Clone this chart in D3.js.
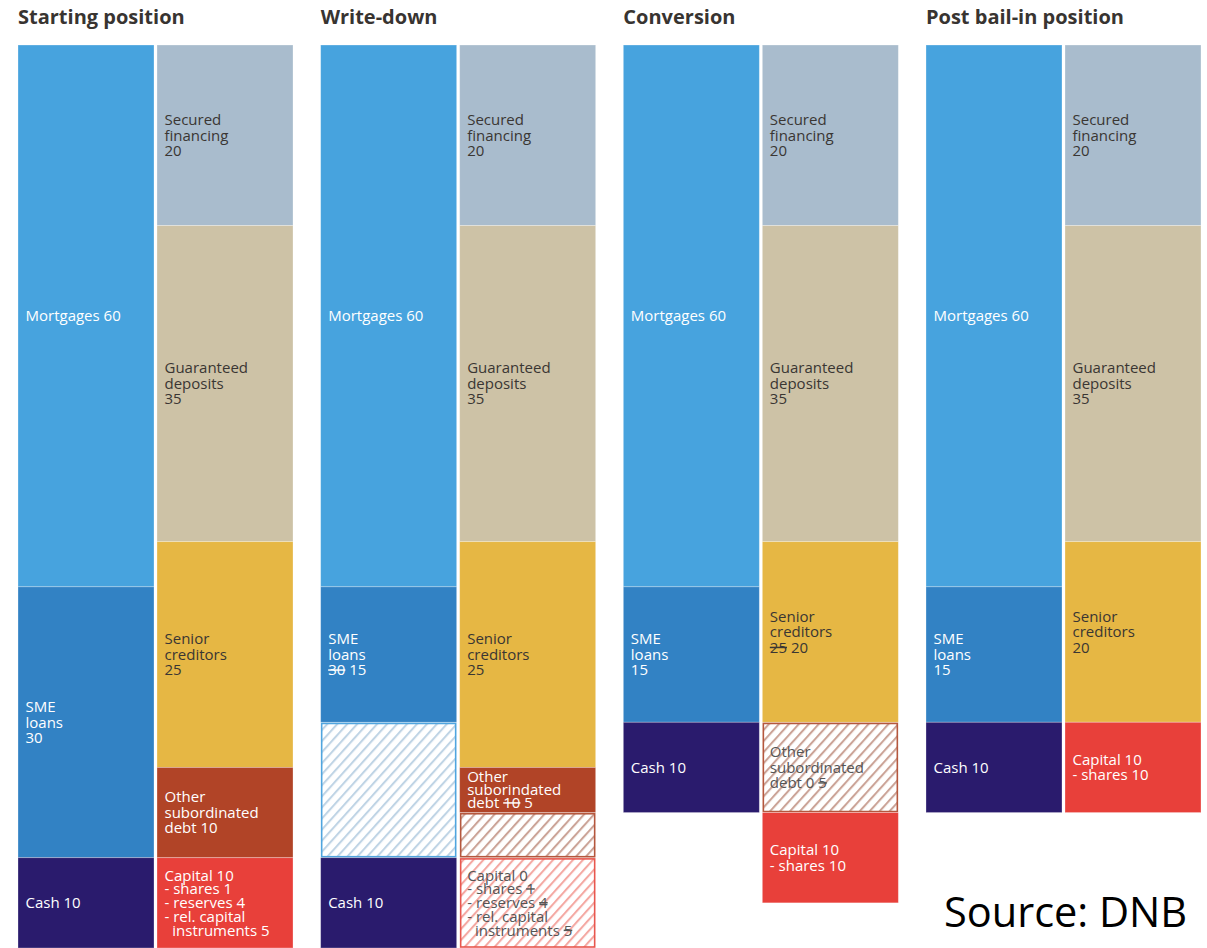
<!DOCTYPE html>
<html>
<head>
<meta charset="utf-8">
<script src="https://cdn.jsdelivr.net/npm/d3@7"></script>
<style>
  html, body { margin: 0; padding: 0; background: #fff; }
  svg { display: block; }
  text { font-family: "Open Sans", "Noto Sans", sans-serif; white-space: pre; }
</style>
</head>
<body>
<svg id="chart" width="1207" height="948"></svg>
<script>
// Balance sheet of a bank through the stages of a bail-in (units of 100).
// "{v}" in a label is replaced by the segment value; "~x~" marks a struck-through figure.

const stages = ["Starting position", "Write-down", "Conversion", "Post bail-in position"];

const assetsStart = [
  { kind: "mortgages", value: 60, label: ["Mortgages {v}"] },
  { kind: "sme", value: 30, label: ["SME", "loans", "{v}"] },
  { kind: "cash", value: 10, label: ["Cash {v}"] }
];
const liabilitiesStart = [
  { kind: "secured", value: 20, label: ["Secured", "financing", "{v}"] },
  { kind: "guaranteed", value: 35, label: ["Guaranteed", "deposits", "{v}"] },
  { kind: "senior", value: 25, label: ["Senior", "creditors", "{v}"] },
  { kind: "subdebt", value: 10, label: ["Other", "subordinated", "debt {v}"] },
  { kind: "capital", value: 10, label: ["Capital {v}", "- shares 1", "- reserves 4", "- rel. capital", "  instruments 5"] }
];

const assetsWriteDown = [
  { kind: "mortgages", value: 60, label: ["Mortgages {v}"] },
  { kind: "sme", value: 15, label: ["SME", "loans", "~30~ {v}"] },
  { kind: "smeLoss", value: 15, label: [] },
  { kind: "cash", value: 10, label: ["Cash {v}"] }
];
const liabilitiesWriteDown = [
  { kind: "secured", value: 20, label: ["Secured", "financing", "{v}"] },
  { kind: "guaranteed", value: 35, label: ["Guaranteed", "deposits", "{v}"] },
  { kind: "senior", value: 25, label: ["Senior", "creditors", "{v}"] },
  { kind: "subdebt", value: 5, label: ["Other", "suborindated", "debt ~10~ {v}"] },
  { kind: "subdebtLoss", value: 5, label: [] },
  { kind: "capitalLoss", value: 10, label: ["Capital 0", "- shares ~1~", "- reserves ~4~", "- rel. capital", "  instruments ~5~"] }
];

const assetsConversion = [
  { kind: "mortgages", value: 60, label: ["Mortgages {v}"] },
  { kind: "sme", value: 15, label: ["SME", "loans", "{v}"] },
  { kind: "cash", value: 10, label: ["Cash {v}"] }
];
const liabilitiesConversion = [
  { kind: "secured", value: 20, label: ["Secured", "financing", "{v}"] },
  { kind: "guaranteed", value: 35, label: ["Guaranteed", "deposits", "{v}"] },
  { kind: "senior", value: 20, label: ["Senior", "creditors", "~25~ {v}"] },
  { kind: "subdebtLoss", value: 10, label: ["Other", "subordinated", "debt 0 ~5~"] },
  { kind: "capital", value: 10, label: ["Capital {v}", "- shares 10"] }
];

const assetsPost = [
  { kind: "mortgages", value: 60, label: ["Mortgages {v}"] },
  { kind: "sme", value: 15, label: ["SME", "loans", "{v}"] },
  { kind: "cash", value: 10, label: ["Cash {v}"] }
];
const liabilitiesPost = [
  { kind: "secured", value: 20, label: ["Secured", "financing", "{v}"] },
  { kind: "guaranteed", value: 35, label: ["Guaranteed", "deposits", "{v}"] },
  { kind: "senior", value: 20, label: ["Senior", "creditors", "{v}"] },
  { kind: "capital", value: 10, label: ["Capital {v}", "- shares 10"] }
];

const sheets = [
  { assets: assetsStart, liabilities: liabilitiesStart },
  { assets: assetsWriteDown, liabilities: liabilitiesWriteDown },
  { assets: assetsConversion, liabilities: liabilitiesConversion },
  { assets: assetsPost, liabilities: liabilitiesPost }
];

const source = "Source: DNB";

// ---- styles ----
const fills = {
  mortgages: "#47a3de",
  sme: "#3282c4",
  cash: "#2a1b6d",
  secured: "#a9bccd",
  guaranteed: "#cdc2a6",
  senior: "#e6b744",
  subdebt: "#b14427",
  capital: "#e8403a"
};
const hatches = {
  smeLoss: { line: "#bfd4e5", edge: "#4fa5df", text: "#555" },
  subdebtLoss: { line: "#cba397", edge: "#b5573d", text: "#555" },
  capitalLoss: { line: "#f4a8a2", edge: "#e8574e", text: "#555" }
};
const darkText = new Set(["secured", "guaranteed", "senior"]);

const svg = d3.select("#chart");
const defs = svg.append("defs");

Object.entries(hatches).forEach(([k, h]) => {
  const p = defs.append("pattern")
    .attr("id", "hatch-" + k)
    .attr("patternUnits", "userSpaceOnUse")
    .attr("width", 7.4).attr("height", 7.4)
    .attr("patternTransform", "rotate(42)");
  p.append("rect").attr("width", 7.4).attr("height", 7.4).attr("fill", "#fff");
  p.append("line").attr("x1", 1).attr("x2", 1).attr("y1", -1).attr("y2", 9)
    .attr("stroke", h.line).attr("stroke-width", 2.1);
});

// ---- scales ----
const x = d3.scaleBand().domain(stages).range([18, 1201]).paddingInner(0.0914);
const side = d3.scaleBand().domain(["assets", "liabilities"]).range([0, x.bandwidth()]).paddingInner(0.0216);
const y = d3.scaleLinear().domain([0, 100]).range([45, 948]);

// titles
svg.selectAll("text.title").data(stages).join("text")
  .attr("class", "title")
  .attr("x", d => x(d))
  .attr("y", 24)
  .attr("fill", "#383431")
  .attr("font-weight", 700)
  .attr("font-size", 20)
  .text(d => d);

function stackSegments(list) {
  let acc = 0;
  return list.map(d => {
    const s = { ...d, y0: acc, y1: acc + d.value };
    acc += d.value;
    return s;
  });
}

const fontSize = 15;

sheets.forEach((sheet, i) => {
  const g = svg.append("g").attr("transform", `translate(${x(stages[i])},0)`);
  ["assets", "liabilities"].forEach(sd => {
    const segs = stackSegments(sheet[sd]);
    const col = g.append("g").attr("transform", `translate(${side(sd)},0)`);
    const w = side.bandwidth();

    const cell = col.selectAll("g.seg").data(segs).join("g").attr("class", "seg");

    cell.each(function (d) {
      const el = d3.select(this);
      const top = y(d.y0), h = y(d.y1) - y(d.y0);
      const hatch = hatches[d.kind];
      if (hatch) {
        el.append("rect")
          .attr("x", 1).attr("y", top + 1.2)
          .attr("width", w - 2).attr("height", h - 2.2)
          .attr("fill", `url(#hatch-${d.kind})`)
          .attr("stroke", hatch.edge).attr("stroke-width", 1.6);
      } else {
        el.append("rect")
          .attr("x", 0).attr("y", top)
          .attr("width", w).attr("height", h)
          .attr("fill", fills[d.kind])
          .attr("stroke", "#fff").attr("stroke-opacity", 0.35).attr("stroke-width", 0.8);
      }

      const lines = d.label.map(t => t.replace("{v}", d.value));
      const n = lines.length;
      if (!n) return;
      const lh = n >= 4 ? 13.8 : Math.min(15.6, (h - 6) / n);
      const cy = top + h / 2;
      const color = hatch ? hatch.text : (darkText.has(d.kind) ? "#3a3633" : "#fff");
      const txt = el.append("text")
        .attr("font-size", fontSize)
        .attr("fill", color);
      lines.forEach((ln, j) => {
        const parts = ln.split("~");
        const base = cy + (j - (n - 1) / 2) * lh + fontSize * 0.35;
        let first = true;
        parts.forEach((p, k) => {
          if (p === "") return;
          const ts = txt.append("tspan").text(p);
          if (first) { ts.attr("x", 7.5).attr("y", base); first = false; }
          if (k % 2 === 1) ts.style("text-decoration", "line-through");
        });
      });
    });
  });
});

// source note
svg.append("text")
  .attr("x", 944).attr("y", 927)
  .attr("font-size", 41.5)
  .attr("fill", "#000")
  .text(source);
</script>
</body>
</html>
